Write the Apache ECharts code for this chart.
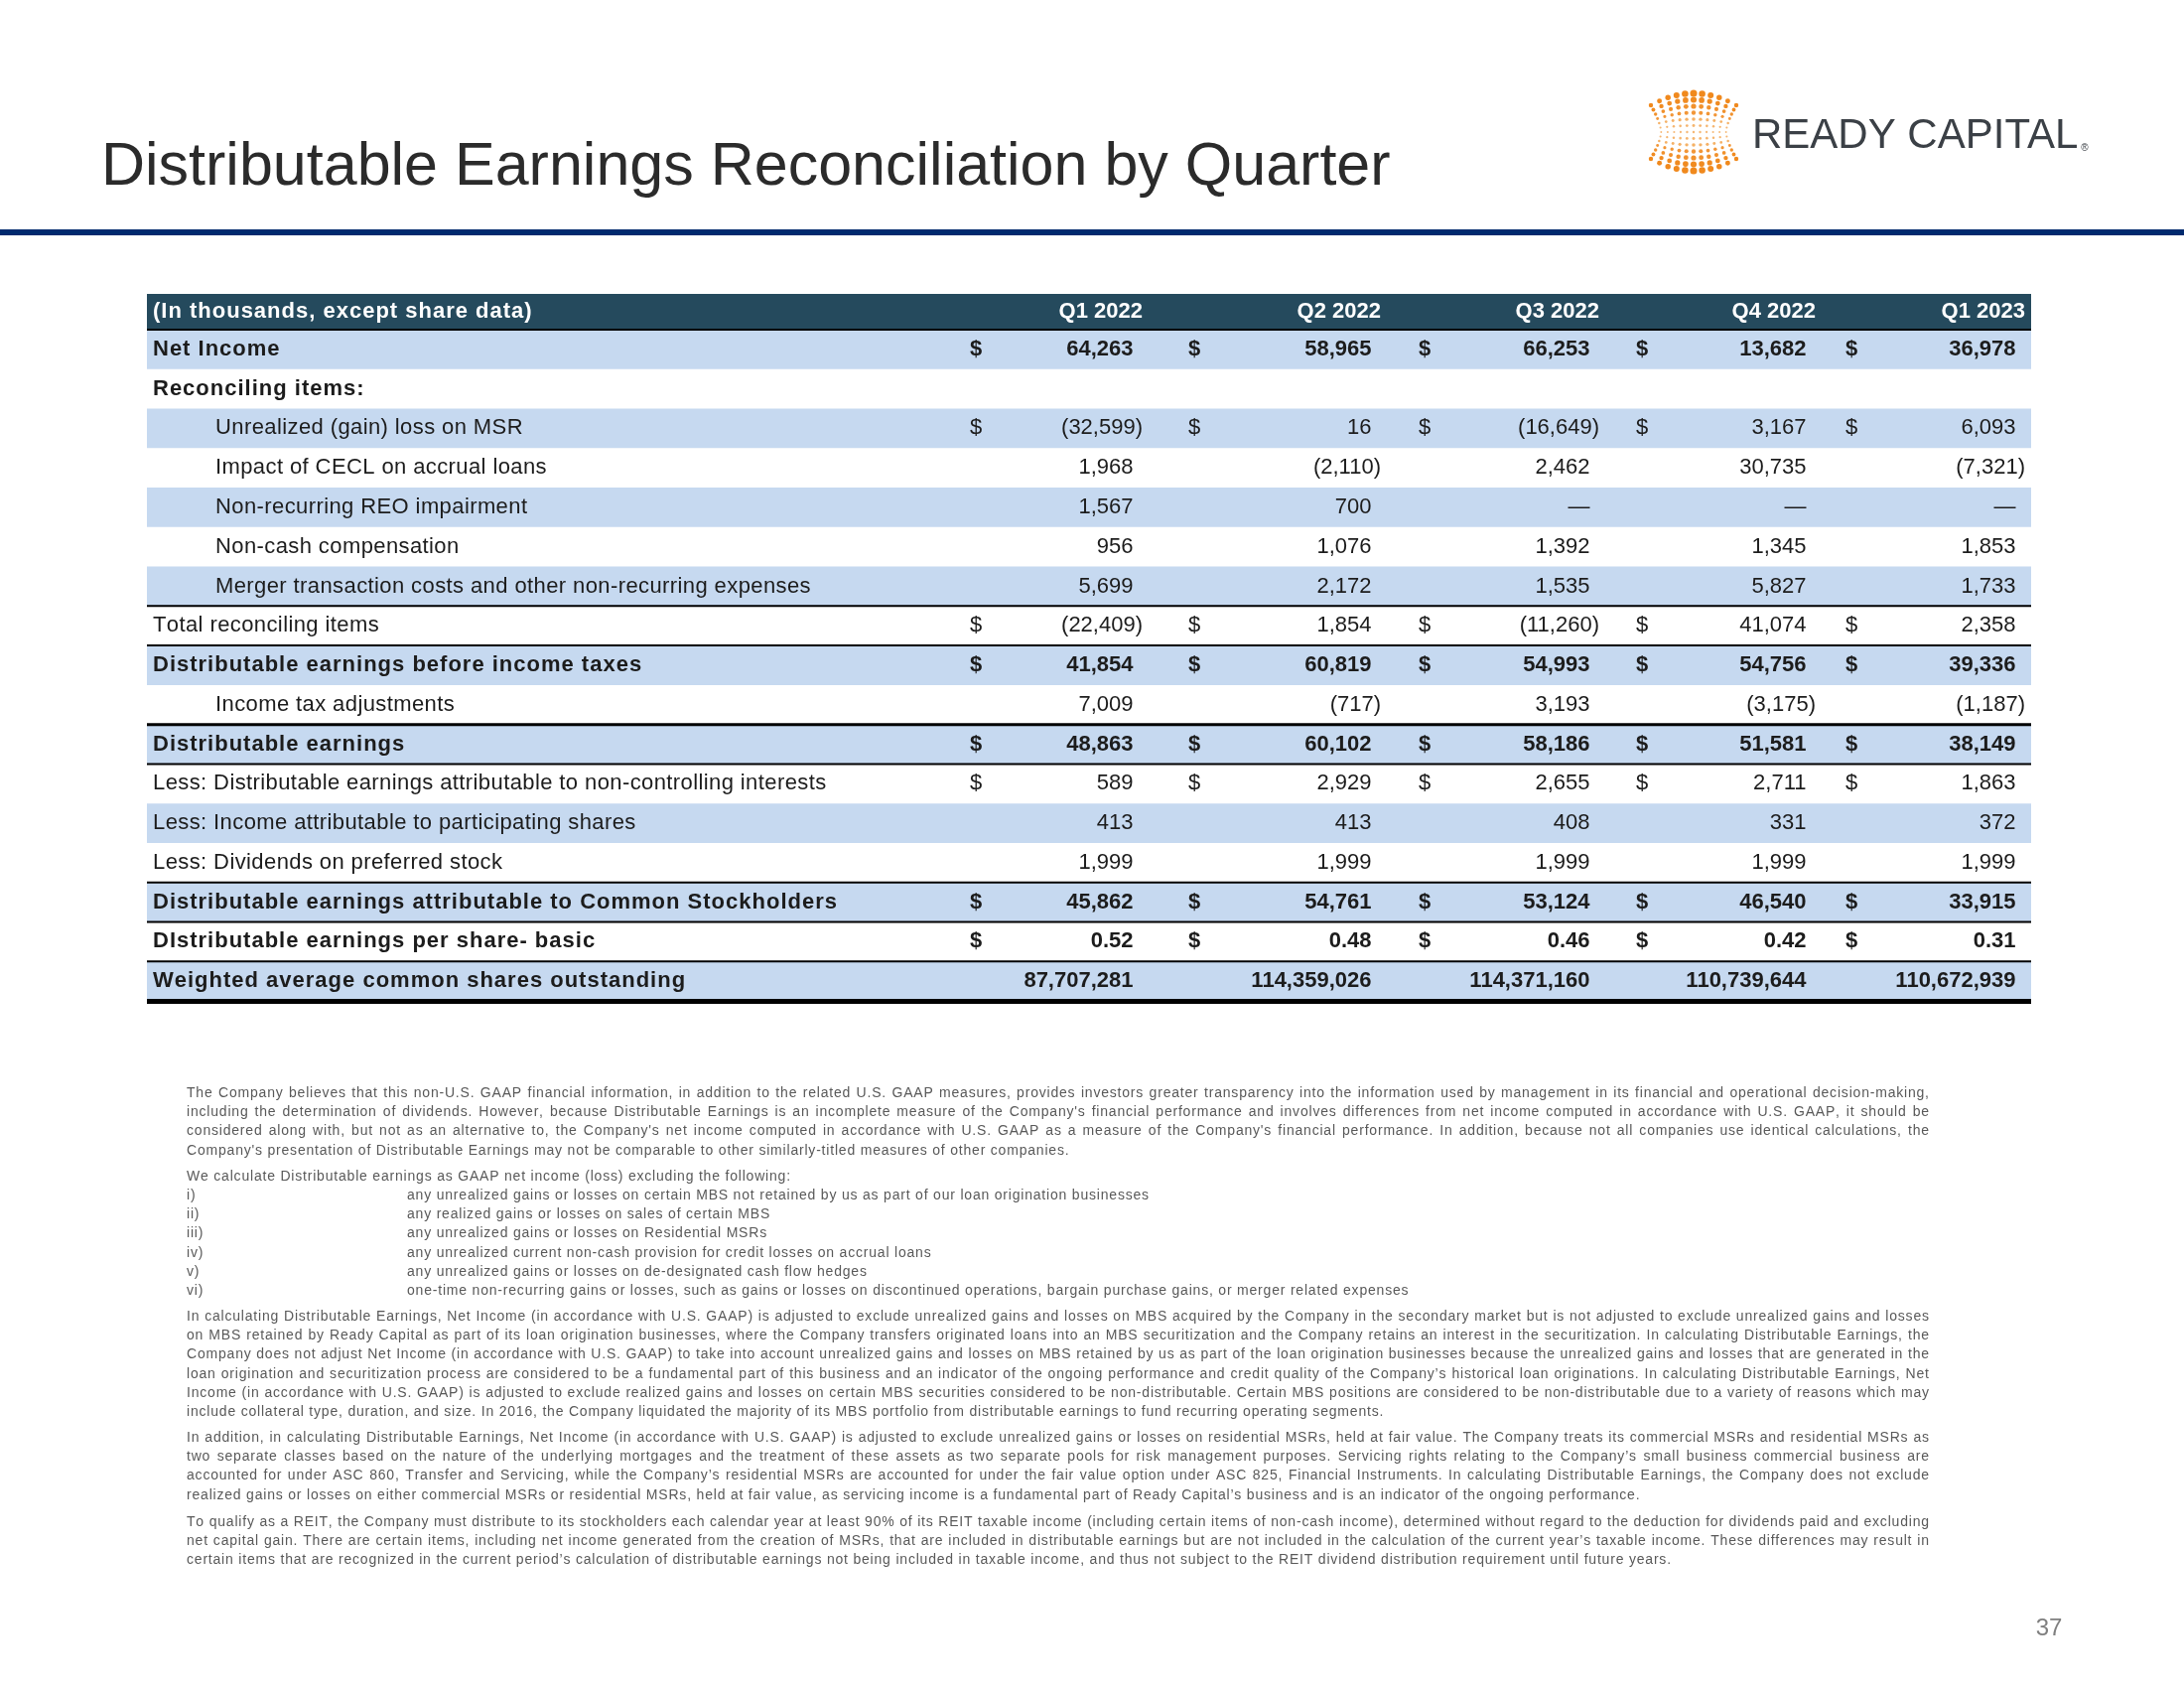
<!DOCTYPE html>
<html>
<head>
<meta charset="utf-8">
<script src="https://cdn.jsdelivr.net/npm/echarts@6/dist/echarts.min.js"></script>
<style>html,body{margin:0;padding:0;background:#fff}#chart{width:2200px;height:1700px}</style>
</head>
<body>
<div id="chart"></div>
<script>
// ---------------- DATA ----------------
const titleText = 'Distributable Earnings Reconciliation by Quarter';
const headerLabel = '(In thousands, except share data)';
const quarters = ['Q1 2022', 'Q2 2022', 'Q3 2022', 'Q4 2022', 'Q1 2023'];
const rowLabels = [
  'Net Income',
  'Reconciling items:',
  'Unrealized (gain) loss on MSR',
  'Impact of CECL on accrual loans',
  'Non-recurring REO impairment',
  'Non-cash compensation',
  'Merger transaction costs and other non-recurring expenses',
  'Total reconciling items',
  'Distributable earnings before income taxes',
  'Income tax adjustments',
  'Distributable earnings',
  'Less: Distributable earnings attributable to non-controlling interests',
  'Less: Income attributable to participating shares',
  'Less: Dividends on preferred stock',
  'Distributable earnings attributable to Common Stockholders',
  'DIstributable earnings per share- basic',
  'Weighted average common shares outstanding'
];
const netIncome = [64263, 58965, 66253, 13682, 36978];
const unrealizedMSR = [-32599, 16, -16649, 3167, 6093];
const ceclImpact = [1968, -2110, 2462, 30735, -7321];
const reoImpairment = [1567, 700, null, null, null];
const nonCashComp = [956, 1076, 1392, 1345, 1853];
const mergerCosts = [5699, 2172, 1535, 5827, 1733];
const totalReconciling = [-22409, 1854, -11260, 41074, 2358];
const deBeforeTaxes = [41854, 60819, 54993, 54756, 39336];
const incomeTaxAdj = [7009, -717, 3193, -3175, -1187];
const distributableEarnings = [48863, 60102, 58186, 51581, 38149];
const lessNonControlling = [589, 2929, 2655, 2711, 1863];
const lessParticipating = [413, 413, 408, 331, 372];
const lessPreferred = [1999, 1999, 1999, 1999, 1999];
const deCommon = [45862, 54761, 53124, 46540, 33915];
const dePerShare = [0.52, 0.48, 0.46, 0.42, 0.31];
const weightedShares = [87707281, 114359026, 114371160, 110739644, 110672939];

const rowValues = [netIncome, null, unrealizedMSR, ceclImpact, reoImpairment, nonCashComp, mergerCosts,
  totalReconciling, deBeforeTaxes, incomeTaxAdj, distributableEarnings, lessNonControlling,
  lessParticipating, lessPreferred, deCommon, dePerShare, weightedShares];
const rowDecimals = [0,0,0,0,0,0,0,0,0,0,0,0,0,0,0,2,0];

const footP1 = [
  'The Company believes that this non-U.S. GAAP financial information, in addition to the related U.S. GAAP measures, provides investors greater transparency into the information used by management in its financial and operational decision-making,',
  "including the determination of dividends. However, because Distributable Earnings is an incomplete measure of the Company's financial performance and involves differences from net income computed in accordance with U.S. GAAP, it should be",
  "considered along with, but not as an alternative to, the Company's net income computed in accordance with U.S. GAAP as a measure of the Company's financial performance. In addition, because not all companies use identical calculations, the",
  "Company's presentation of Distributable Earnings may not be comparable to other similarly-titled measures of other companies."
];
const footIntro = 'We calculate Distributable earnings as GAAP net income (loss) excluding the following:';
const footNumerals = ['i)', 'ii)', 'iii)', 'iv)', 'v)', 'vi)'];
const footItems = [
  'any unrealized gains or losses on certain MBS not retained by us as part of our loan origination businesses',
  'any realized gains or losses on sales of certain MBS',
  'any unrealized gains or losses on Residential MSRs',
  'any unrealized current non-cash provision for credit losses on accrual loans',
  'any unrealized gains or losses on de-designated cash flow hedges',
  'one-time non-recurring gains or losses, such as gains or losses on discontinued operations, bargain purchase gains, or merger related expenses'
];
const footP3 = [
  'In calculating Distributable Earnings, Net Income (in accordance with U.S. GAAP) is adjusted to exclude unrealized gains and losses on MBS acquired by the Company in the secondary market but is not adjusted to exclude unrealized gains and losses',
  'on MBS retained by Ready Capital as part of its loan origination businesses, where the Company transfers originated loans into an MBS securitization and the Company retains an interest in the securitization. In calculating Distributable Earnings, the',
  'Company does not adjust Net Income (in accordance with U.S. GAAP) to take into account unrealized gains and losses on MBS retained by us as part of the loan origination businesses because the unrealized gains and losses that are generated in the',
  'loan origination and securitization process are considered to be a fundamental part of this business and an indicator of the ongoing performance and credit quality of the Company\u2019s historical loan originations. In calculating Distributable Earnings, Net',
  'Income (in accordance with U.S. GAAP) is adjusted to exclude realized gains and losses on certain MBS securities considered to be non-distributable. Certain MBS positions are considered to be non-distributable due to a variety of reasons which may',
  'include collateral type, duration, and size. In 2016, the Company liquidated the majority of its MBS portfolio from distributable earnings to fund recurring operating segments.'
];
const footP4 = [
  'In addition, in calculating Distributable Earnings, Net Income (in accordance with U.S. GAAP) is adjusted to exclude unrealized gains or losses on residential MSRs, held at fair value.  The Company treats its commercial MSRs and residential MSRs as',
  'two separate classes based on the nature of the underlying mortgages and the treatment of these assets as two separate pools for risk management purposes.  Servicing rights relating to the Company\u2019s small business commercial business are',
  'accounted for under ASC 860, Transfer and Servicing, while the Company\u2019s residential MSRs are accounted for under the fair value option under ASC 825, Financial Instruments.  In calculating Distributable Earnings, the Company does not exclude',
  'realized gains or losses on either commercial MSRs or residential MSRs, held at fair value, as servicing income is a fundamental part of Ready Capital\u2019s business and is an indicator of the ongoing performance.'
];
const footP5 = [
  'To qualify as a REIT, the Company must distribute to its stockholders each calendar year at least 90% of its REIT taxable income (including certain items of non-cash income), determined without regard to the deduction for dividends paid and excluding',
  'net capital gain. There are certain items, including net income generated from the creation of MSRs, that are included in distributable earnings but are not included in the calculation of the current year\u2019s taxable income. These differences may result in',
  'certain items that are recognized in the current period\u2019s calculation of distributable earnings not being included in taxable income, and thus not subject to the REIT dividend distribution requirement until future years.'
];
const brandName = 'READY CAPITAL';
const pageNumber = '37';

// ---------------- STYLE / LAYOUT ----------------
const rowBold   = [1,1,0,0,0,0,0,0,1,0,1,0,0,0,1,1,1];
const rowIndent = [0,0,1,1,1,1,1,0,0,1,0,0,0,0,0,0,0];
const rowDollar = [1,0,1,0,0,0,0,1,1,0,1,1,0,0,1,1,0];
const ruleAbove = {0: 2, 7: 2, 8: 2, 10: 3, 11: 2, 14: 2, 15: 2, 16: 2};
const bottomRule = 5;
const TABLE_L = 148, TABLE_R = 2046;
const LABEL_X = 154, INDENT_X = 217;
const DOLLAR_X = [983, 1203, 1435, 1654, 1865];
const VALUE_R = [1151, 1391, 1611, 1829, 2040];
const PAREN_W = 9.5;
const BAND = '#c6d9f0', HEAD = '#254a5d', INK = '#1c1c1c';
const FAMILY = '"Liberation Sans", Arial, sans-serif';
const CELL_SIZE = 22;
const TRACK_REG = 0.4, TRACK_BOLD = 1.0;

// ---------- text measuring / tracking helpers ----------
const mctx = document.createElement('canvas').getContext('2d');
const wcache = {};
function tw(s, font) {
  const k = font + '|' + s;
  if (wcache[k] === undefined) { mctx.font = font; wcache[k] = mctx.measureText(s).width; }
  return wcache[k];
}
function trackedWidth(str, font, track) {
  const chars = Array.from(str);
  return chars.reduce((a, ch) => a + tw(ch, font), 0) + track * (chars.length - 1);
}
function tracked(str, x, y, font, fill, track, align) {
  const chars = Array.from(str);
  const total = trackedWidth(str, font, track);
  let cx = align === 'right' ? x - total : x;
  const els = [];
  chars.forEach(ch => {
    if (ch !== ' ') els.push({type: 'text', x: cx, y: y, style: {text: ch, font: font, fill: fill, verticalAlign: 'middle'}});
    cx += tw(ch, font) + track;
  });
  return els;
}
function cellFont(bold) { return (bold ? 'bold ' : '') + CELL_SIZE + 'px ' + FAMILY; }
function txt(x, y, text, opt) {
  return {type: 'text', x: x, y: y,
    style: {text: text, fill: opt.fill || INK, font: cellFont(opt.bold), align: opt.align || 'left', verticalAlign: 'middle'}};
}
function fmt(v, dec) {
  if (v === null || v === undefined) return '\u2014';
  const s = Math.abs(v).toLocaleString('en-US', {minimumFractionDigits: dec, maximumFractionDigits: dec});
  return v < 0 ? '(' + s + ')' : s;
}

function renderHeader(params, api) {
  const yc = api.coord([0, api.value(1)])[1];
  const h = api.size([0, 1])[1];
  const x0 = api.coord([TABLE_L, 0])[0], x1 = api.coord([TABLE_R, 0])[0];
  let ch = [{type: 'rect', shape: {x: x0, y: yc - h / 2, width: x1 - x0, height: h}, style: {fill: HEAD}}];
  ch = ch.concat(tracked(headerLabel, api.coord([LABEL_X, 0])[0], yc, cellFont(true), '#ffffff', TRACK_BOLD, 'left'));
  quarters.forEach((q, i) => ch.push(txt(api.coord([VALUE_R[i], 0])[0], yc, q, {bold: true, fill: '#ffffff', align: 'right'})));
  return {type: 'group', children: ch};
}

function renderRow(params, api) {
  const r = api.value(1);
  const yc = api.coord([0, r])[1];
  const h = api.size([0, 1])[1];
  const top = yc - h / 2;
  const x0 = api.coord([TABLE_L, r])[0], x1 = api.coord([TABLE_R, r])[0];
  let ch = [];
  if (r % 2 === 0) ch.push({type: 'rect', shape: {x: x0, y: top, width: x1 - x0, height: h}, style: {fill: BAND}});
  const bold = !!rowBold[r];
  ch = ch.concat(tracked(rowLabels[r], api.coord([rowIndent[r] ? INDENT_X : LABEL_X, r])[0], yc,
    cellFont(bold), INK, bold ? TRACK_BOLD : TRACK_REG, 'left'));
  const vals = rowValues[r];
  if (vals) {
    vals.forEach((v, i) => {
      if (rowDollar[r]) ch.push(txt(api.coord([DOLLAR_X[i], r])[0], yc, '$', {bold: bold, align: 'center'}));
      const neg = v !== null && v < 0;
      const xr = api.coord([VALUE_R[i] - (neg ? 0 : PAREN_W), r])[0];
      ch.push(txt(xr, yc, fmt(v, rowDecimals[r]), {bold: bold, align: 'right'}));
    });
  }
  if (ruleAbove[r]) {
    const w = ruleAbove[r];
    ch.push({type: 'rect', shape: {x: x0, y: top - w / 2, width: x1 - x0, height: w}, style: {fill: '#000'}});
  }
  if (r === rowLabels.length - 1) {
    ch.push({type: 'rect', shape: {x: x0, y: top + h - 2, width: x1 - x0, height: bottomRule}, style: {fill: '#000'}});
  }
  return {type: 'group', children: ch};
}

// ---------- footnotes (tracked + justified) ----------
const FOOT_FONT = '14px ' + FAMILY;
const FOOT_FILL = '#595959';
const FOOT_TRACK = 0.8;
const FOOT_L = 188, FOOT_R = 1943;
let footEls = [];
function footLine(text, x, y, justify) {
  if (!justify) { footEls = footEls.concat(tracked(text, x, y, FOOT_FONT, FOOT_FILL, FOOT_TRACK, 'left')); return; }
  const words = text.split(/\s+/).filter(w => w.length);
  const ws = words.map(w => trackedWidth(w, FOOT_FONT, FOOT_TRACK));
  const sum = ws.reduce((a, b) => a + b, 0);
  const gap = (FOOT_R - x - sum) / (words.length - 1);
  let cx = x;
  words.forEach((w, i) => {
    footEls = footEls.concat(tracked(w, cx, y, FOOT_FONT, FOOT_FILL, FOOT_TRACK, 'left'));
    cx += ws[i] + gap;
  });
}
function paragraph(lines, y0, step) {
  lines.forEach((l, i) => footLine(l, FOOT_L, y0 + i * step, i < lines.length - 1));
}
const LS = 19.3;
paragraph(footP1, 1101, LS);
footLine(footIntro, FOOT_L, 1185, false);
footNumerals.forEach((n, i) => {
  footLine(n, FOOT_L, 1204 + i * LS, false);
  footLine(footItems[i], 410, 1204 + i * LS, false);
});
paragraph(footP3, 1326, LS);
paragraph(footP4, 1448, LS);
paragraph(footP5, 1533, LS);

// ---------- title (tracked to its width) ----------
function fontAvailable(fam) {
  const test = 'abcdefghijklmnopqrstuvwxyz0123456789';
  mctx.font = '40px monospace'; const a = mctx.measureText(test).width;
  mctx.font = '40px "' + fam + '", monospace'; const b = mctx.measureText(test).width;
  return Math.abs(a - b) > 1;
}
const TITLE_FONT = '61px ' + (fontAvailable('Liberation Sans Narrow') ? '"Liberation Sans Narrow", ' : '') + FAMILY;
const TITLE_X0 = 102, TITLE_X1 = 1400;
const titleChars = Array.from(titleText);
const titleNat = titleChars.reduce((a, c) => a + tw(c, TITLE_FONT), 0);
const titleTrack = Math.max(0, (TITLE_X1 - TITLE_X0 - titleNat) / (titleChars.length - 1));
const titleEls = tracked(titleText, TITLE_X0, 169, TITLE_FONT, '#2b2b2b', titleTrack, 'left');

// ---------- brand ----------
const BRAND_FONT = '42px ' + FAMILY;
const brandW = tw(brandName, BRAND_FONT);

// ---------- logo dots ----------
const logoEls = [];
for (let r = 0; r < 13; r++) {
  for (let c = 0; c < 11; c++) {
    const v = (r - 6) / 6, u = (c - 5) / 5;
    const av = Math.abs(v), au = Math.abs(u);
    const x = 1706 + u * 43 * (0.76 + 0.24 * Math.pow(av, 1.5));
    const y = 133 + v * (27 + 12 * (1 - u * u));
    const rad = 0.95 + 2.3 * Math.pow(av, 1.3) * (1 - 0.45 * au) + 0.3 * (1 - au);
    const t = Math.min(1, av * 1.1);
    const col = t > 0.45 ? '#f0891d' : '#f3a24a';
    logoEls.push({type: 'circle', shape: {cx: x, cy: y, r: rad}, style: {fill: col, opacity: 0.75 + 0.25 * t}});
  }
}

const chart = echarts.init(document.getElementById('chart'), null, {renderer: 'canvas'});
chart.setOption({
  backgroundColor: '#ffffff',
  animation: false,
  grid: [
    {left: 0, right: 0, top: 296, height: 36},
    {left: 0, right: 0, top: 332, height: 676}
  ],
  xAxis: [
    {gridIndex: 0, type: 'value', min: 0, max: 2200, show: false},
    {gridIndex: 1, type: 'value', min: 0, max: 2200, show: false}
  ],
  yAxis: [
    {gridIndex: 0, type: 'category', data: ['header'], inverse: true, show: false},
    {gridIndex: 1, type: 'category', data: rowLabels, inverse: true, show: false}
  ],
  series: [
    {type: 'custom', xAxisIndex: 0, yAxisIndex: 0, data: [[0, 0]], encode: {x: 0, y: 1}, renderItem: renderHeader, silent: true},
    {type: 'custom', xAxisIndex: 1, yAxisIndex: 1, data: rowLabels.map((_, i) => [0, i]), encode: {x: 0, y: 1}, renderItem: renderRow, silent: true}
  ],
  graphic: [
    {type: 'group', children: titleEls},
    {type: 'rect', shape: {x: 0, y: 231, width: 2200, height: 6}, style: {fill: '#002a6e'}},
    {type: 'text', x: 1765, y: 137, style: {text: brandName, font: BRAND_FONT, fill: '#3b4046', verticalAlign: 'middle'}},
    {type: 'text', x: 1765 + brandW + 3, y: 149, style: {text: '\u00ae', font: '10px ' + FAMILY, fill: '#3b4046', verticalAlign: 'middle'}},
    {type: 'group', children: logoEls},
    {type: 'group', children: footEls},
    {type: 'text', x: 2064, y: 1640, style: {text: pageNumber, font: '24px ' + FAMILY, fill: '#7f7f7f', align: 'center', verticalAlign: 'middle'}}
  ]
});
</script>
</body>
</html>
